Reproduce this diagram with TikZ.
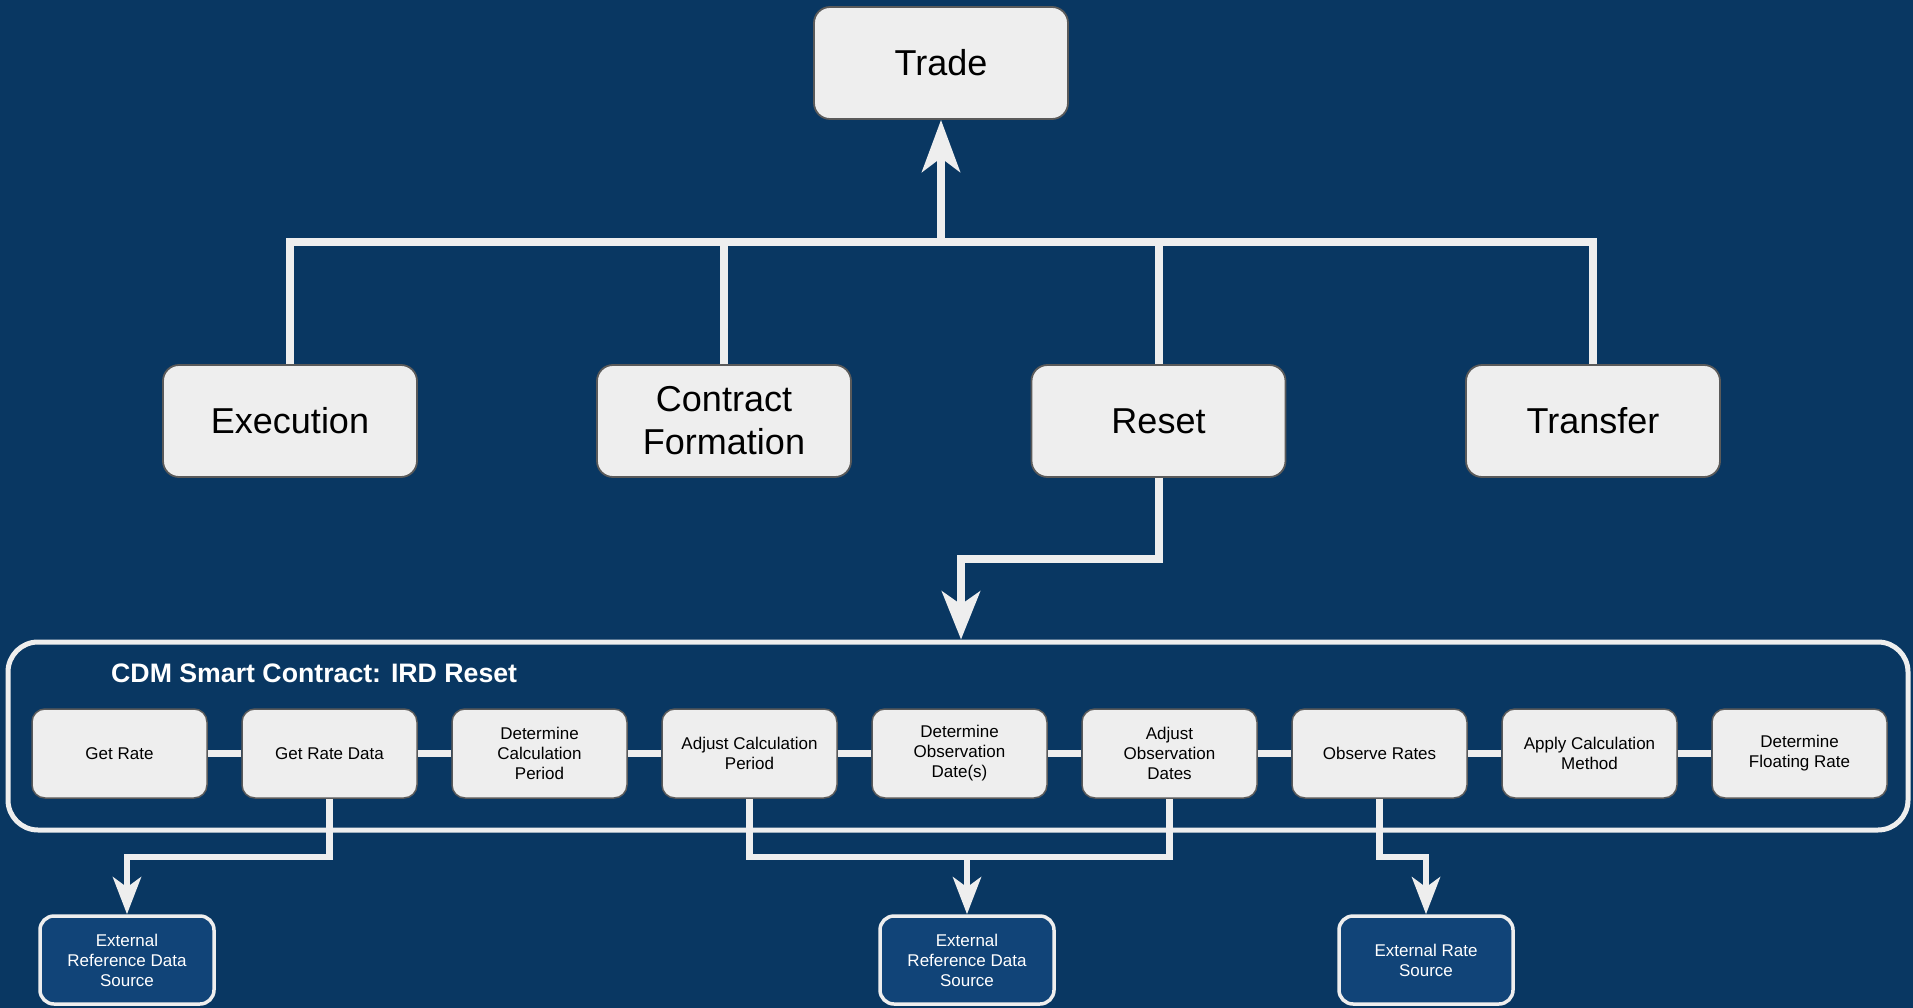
\documentclass[tikz,border=0pt]{standalone}
\usepackage{fontspec}
\setmainfont{Liberation Sans}
\usetikzlibrary{arrows.meta}
\definecolor{bgnavy}{RGB}{9,55,98}
\definecolor{extfill}{RGB}{17,68,120}
\definecolor{boxfill}{RGB}{238,238,238}
\definecolor{wire}{RGB}{238,238,238}
\definecolor{boxedge}{RGB}{90,90,90}
\begin{document}
\begin{tikzpicture}[x=1pt,y=-1pt,
  bigbox/.style={draw=boxedge,line width=1.8pt,fill=boxfill,rounded corners=16pt,
    minimum width=254pt,minimum height=112pt,align=center,inner sep=0pt,
    font=\fontsize{36}{43}\selectfont,text=black},
  smallbox/.style={draw=boxedge,line width=1.5pt,fill=boxfill,rounded corners=13pt,
    minimum width=175pt,minimum height=89pt,align=center,inner sep=0pt,
    font=\fontsize{17}{20}\selectfont,text=black},
  extbox/.style={draw=wire,line width=3.5pt,fill=extfill,rounded corners=14pt,
    minimum width=174pt,minimum height=88pt,align=center,inner sep=0pt,
    font=\fontsize{17}{20}\selectfont,text=white},
  thickwire/.style={draw=wire,line width=8pt},
  thinwire/.style={draw=wire,line width=6.5pt},
  bigtip/.style={-{Stealth[length=52pt,width=38pt,inset=14pt]}},
  smalltip/.style={-{Stealth[length=37pt,width=28pt,inset=10pt]}}
]
% canvas
\fill[bgnavy] (0,0) rectangle (1913,1008);
\useasboundingbox (0,0) rectangle (1913,1008);

% smart contract frame
\node[draw=wire,line width=5pt,rounded corners=30pt,minimum width=1900pt,
  minimum height=188pt,inner sep=0pt] (cdm) at (958,736) {};
\node[anchor=west,text=white,font=\bfseries\fontsize{26.7}{32}\selectfont,inner sep=0pt]
  (title) at (111,673) {CDM Smart Contract: IRD Reset};

% top level
\node[bigbox] (trade) at (941,63) {Trade};
\node[bigbox] (exec) at (290,421) {Execution};
\node[bigbox] (cf) at (724,421) {Contract\\Formation};
\node[bigbox] (reset) at (1158.5,421) {Reset};
\node[bigbox] (tran) at (1593,421) {Transfer};

\coordinate (hub) at (941,242);
\draw[thickwire] (exec.north) |- (hub) -| (tran.north);
\draw[thickwire] (cf.north) -- (cf.north |- hub);
\draw[thickwire] (reset.north) -- (reset.north |- hub);
\draw[thickwire,bigtip] (hub) -- (trade.south);

\coordinate (rk) at (961,559);
\draw[thickwire,-{Stealth[length=48pt,width=38pt,inset=13pt]}]
  (reset.south) |- (rk) -- (rk |- cdm.north);

% steps
\foreach \n/\t [count=\i from 0] in {
  s1/{Get Rate},
  s2/{Get Rate Data},
  s3/{Determine\\Calculation\\Period},
  s4/{Adjust Calculation\\Period},
  s5/{Determine\\Observation\\Date(s)},
  s6/{Adjust\\Observation\\Dates},
  s7/{Observe Rates},
  s8/{Apply Calculation\\Method},
  s9/{Determine\\Floating Rate}}
  \node[smallbox] (\n) at (119.5+210*\i,753.5) {\t};

\foreach \a/\b in {s1/s2,s2/s3,s3/s4,s4/s5,s5/s6,s6/s7,s7/s8,s8/s9}
  \draw[thinwire] (\a.east) -- (\b.west);

% external sources
\node[extbox] (e1) at (127,960) {External\\Reference Data\\Source};
\node[extbox] (e2) at (967,960) {External\\Reference Data\\Source};
\node[extbox] (e3) at (1426,960) {External Rate\\Source};

\coordinate (k1) at (127,857);
\coordinate (k2) at (967,857);
\coordinate (k3) at (1426,857);
\draw[thinwire,smalltip] (s2.south) |- (k1) -- (e1.north);
\draw[thinwire] (s4.south) |- (k2) -| (s6.south);
\draw[thinwire,smalltip] (k2) -- (e2.north);
\draw[thinwire,smalltip] (s7.south) |- (k3) -- (e3.north);
\end{tikzpicture}
\end{document}
